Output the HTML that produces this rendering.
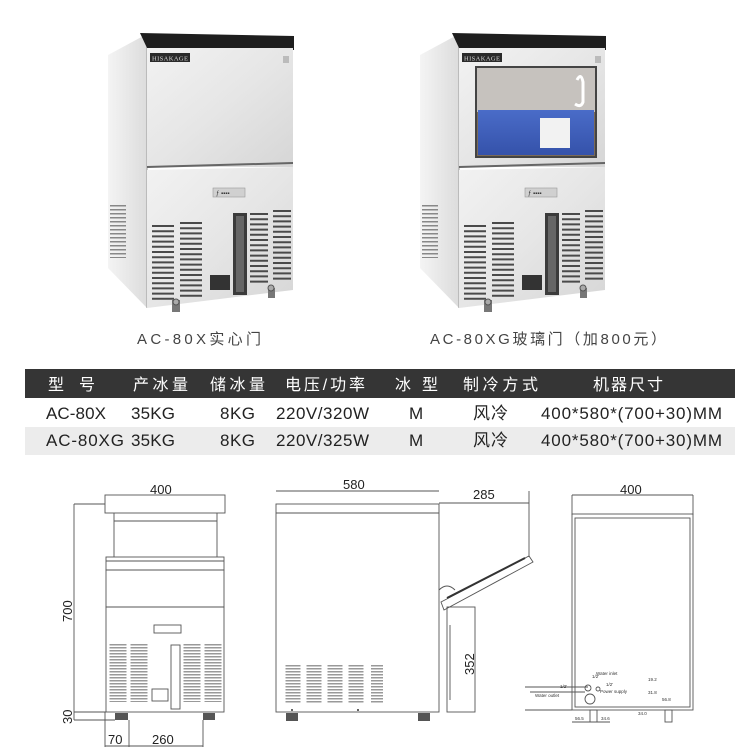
<!DOCTYPE html>
<html><head><meta charset="utf-8"><style>
html,body{margin:0;padding:0;background:#fff;}
svg{display:block;font-family:"Liberation Sans","Noto Sans CJK SC",sans-serif;}
</style></head><body>
<svg width="750" height="750" viewBox="0 0 750 750" xmlns="http://www.w3.org/2000/svg">
<defs>
<linearGradient id="steel" x1="0" y1="0" x2="1" y2="1">
<stop offset="0" stop-color="#f2f2f2"/><stop offset="0.5" stop-color="#e6e6e6"/><stop offset="1" stop-color="#d6d6d6"/>
</linearGradient>
<linearGradient id="side" x1="0" y1="0" x2="1" y2="0">
<stop offset="0" stop-color="#f4f4f4"/><stop offset="1" stop-color="#dcdcdc"/>
</linearGradient>
<linearGradient id="blue" x1="0" y1="0" x2="0" y2="1">
<stop offset="0" stop-color="#4a6cc8"/><stop offset="1" stop-color="#3552aa"/>
</linearGradient>
<g id="machine">
  <polygon points="108,55 147,34 147,308 108,268" fill="url(#side)"/>
  <line x1="147" y1="34" x2="147" y2="308" stroke="#999" stroke-width="1"/>
  <polygon points="140,33 294,36 294,50 147,48" fill="#1e1e1e"/>
  <rect x="147" y="48" width="146" height="119" fill="url(#steel)"/>
  <line x1="147" y1="167" x2="293" y2="163" stroke="#666" stroke-width="2"/>
  <rect x="150" y="53" width="40" height="9" fill="#2a2a2a"/>
  <text x="152" y="60.5" font-size="6.5" fill="#ddd" font-family="Liberation Serif,serif" textLength="36">HISAKAGE</text>
  <rect x="283" y="56" width="6" height="7" fill="#bbb"/>
  <polygon points="147,170 293,167 293,290 147,308" fill="url(#steel)"/>
  <rect x="213" y="188" width="32" height="9" fill="#d0d0d0" stroke="#999" stroke-width="0.6"/>
  <text x="216" y="195" font-size="6" fill="#333">ƒ ▪▪▪▪</text>
  <g stroke="#4a4a4a" stroke-dasharray="2 3.2">
    <line x1="163" y1="225" x2="163" y2="302" stroke-width="22"/>
    <line x1="191" y1="222" x2="191" y2="300" stroke-width="22"/>
    <line x1="259" y1="213" x2="259" y2="283" stroke-width="18"/>
    <line x1="282" y1="210" x2="282" y2="282" stroke-width="18"/>
    <line x1="118" y1="205" x2="118" y2="258" stroke-width="16" stroke-dasharray="1.5 2.5" stroke="#888"/>
  </g>
  <rect x="233" y="213" width="14" height="82" fill="#3b3b3b"/>
  <rect x="236" y="216" width="8" height="76" fill="#666"/>
  <rect x="210" y="275" width="20" height="15" fill="#333"/>
  <rect x="172" y="300" width="8" height="12" fill="#777"/>
  <circle cx="176" cy="302" r="3" fill="#aaa" stroke="#555"/>
  <rect x="268" y="288" width="7" height="10" fill="#777"/>
  <circle cx="271" cy="288" r="3" fill="#aaa" stroke="#555"/>
</g>
</defs>
<use href="#machine"/>
<g transform="translate(312,0)">
<use href="#machine"/>
<rect x="164" y="67" width="120" height="90" fill="#7a6a58"/>
<rect x="164" y="67" width="120" height="45" fill="#e0e0e0" opacity="0.75"/>
<rect x="166" y="110" width="116" height="45" fill="url(#blue)"/>
<rect x="228" y="118" width="30" height="30" fill="#f2f2f2"/>
<path d="M265 80 q4 -8 6 2 l0 20 q-2 6 -8 2" fill="none" stroke="#fff" stroke-width="3"/>
<rect x="164" y="67" width="120" height="90" fill="none" stroke="#444" stroke-width="2"/>
</g>
<text x="137" y="344" font-size="15" fill="#444" textLength="125" letter-spacing="1">AC-80X实心门</text>
<text x="430" y="344" font-size="15" fill="#444" textLength="237" letter-spacing="1">AC-80XG玻璃门（加800元）</text>
<rect x="25" y="369" width="710" height="29" fill="#353535"/>
<rect x="25" y="427" width="710" height="28" fill="#ececec"/>
<g fill="#fff" font-size="16">
<text x="48" y="390" textLength="47">型 号</text>
<text x="133" y="390" textLength="55">产冰量</text>
<text x="210" y="390" textLength="55">储冰量</text>
<text x="285" y="390" textLength="80">电压/功率</text>
<text x="395" y="390" textLength="43">冰 型</text>
<text x="463" y="390" textLength="75">制冷方式</text>
<text x="593" y="390" textLength="70">机器尺寸</text>
</g>
<g fill="#222" font-size="17">
<text x="46" y="419" textLength="60">AC-80X</text>
<text x="131" y="419" textLength="44">35KG</text>
<text x="220" y="419" textLength="35">8KG</text>
<text x="276" y="419" textLength="93">220V/320W</text>
<text x="409" y="419" textLength="14">M</text>
<text x="473" y="419" textLength="35">风冷</text>
<text x="541" y="419" textLength="181">400*580*(700+30)MM</text>
<text x="46" y="446" textLength="78">AC-80XG</text>
<text x="131" y="446" textLength="44">35KG</text>
<text x="220" y="446" textLength="35">8KG</text>
<text x="276" y="446" textLength="93">220V/325W</text>
<text x="409" y="446" textLength="14">M</text>
<text x="473" y="446" textLength="35">风冷</text>
<text x="541" y="446" textLength="181">400*580*(700+30)MM</text>
</g>
<g fill="none" stroke="#555" stroke-width="0.9">
<rect x="105" y="495" width="120" height="18"/>
<line x1="114" y1="513" x2="114" y2="557"/><line x1="217" y1="513" x2="217" y2="557"/>
<line x1="114" y1="521" x2="217" y2="521"/>
<rect x="106" y="557" width="118" height="13"/>
<line x1="106" y1="561" x2="224" y2="561"/>
<rect x="106" y="570" width="118" height="37"/>
<rect x="106" y="607" width="118" height="105"/>
<rect x="154" y="625" width="27" height="8"/>
<rect x="171" y="645" width="9" height="64"/>
<rect x="152" y="689" width="16" height="12"/>
<line x1="74" y1="504" x2="105" y2="504"/><line x1="74" y1="504" x2="74" y2="720"/>
<line x1="74" y1="712" x2="106" y2="712"/><line x1="74" y1="720" x2="115" y2="720"/>
<line x1="105" y1="712" x2="105" y2="747"/><line x1="129" y1="720" x2="129" y2="747"/>
<line x1="203" y1="720" x2="203" y2="747"/><line x1="105" y1="746" x2="203" y2="746"/>
</g>
<g stroke="#999" stroke-dasharray="1.5 1.5">
<line x1="118" y1="644" x2="118" y2="702" stroke-width="17"/>
<line x1="139" y1="644" x2="139" y2="702" stroke-width="17"/>
<line x1="192" y1="644" x2="192" y2="702" stroke-width="17"/>
<line x1="213" y1="644" x2="213" y2="702" stroke-width="17"/>
</g>
<rect x="115" y="713" width="13" height="7" fill="#555"/>
<rect x="203" y="713" width="12" height="7" fill="#555"/>
<g font-size="13" fill="#222">
<text x="150" y="494">400</text>
<text x="108" y="744">70</text>
<text x="152" y="744">260</text>
<text transform="translate(72,622) rotate(-90)">700</text>
<text transform="translate(72,724) rotate(-90)">30</text>
</g>
<g fill="none" stroke="#555" stroke-width="0.9">
<line x1="276" y1="491" x2="439" y2="491"/>
<rect x="276" y="504" width="163" height="208"/>
<line x1="276" y1="513" x2="439" y2="513"/>
<line x1="439" y1="503" x2="529" y2="503"/><line x1="529" y1="491" x2="529" y2="557"/>
<rect x="447" y="607" width="28" height="105"/>
<line x1="450" y1="625" x2="450" y2="700"/>
<path d="M439 590 q8 -8 16 0"/>
<polygon points="441,602 529,556 533,562 444,610"/>
</g>
<line x1="447" y1="598" x2="525" y2="558" stroke="#333" stroke-width="2"/>
<g stroke="#999" stroke-dasharray="1.5 1.5">
<line x1="293" y1="665" x2="293" y2="703" stroke-width="15"/>
<line x1="314" y1="665" x2="314" y2="703" stroke-width="15"/>
<line x1="335" y1="665" x2="335" y2="703" stroke-width="15"/>
<line x1="356" y1="665" x2="356" y2="703" stroke-width="15"/>
<line x1="377" y1="665" x2="377" y2="703" stroke-width="12"/>
</g>
<rect x="286" y="713" width="12" height="8" fill="#555"/>
<rect x="418" y="713" width="12" height="8" fill="#555"/>
<circle cx="292" cy="710" r="1" fill="#333"/><circle cx="358" cy="710" r="1" fill="#333"/>
<g font-size="13" fill="#222">
<text x="343" y="489">580</text>
<text x="473" y="499">285</text>
<text transform="translate(474,675) rotate(-90)">352</text>
</g>
<g fill="none" stroke="#555" stroke-width="0.9">
<line x1="572" y1="495" x2="693" y2="495"/>
<line x1="572" y1="495" x2="572" y2="515"/><line x1="693" y1="495" x2="693" y2="515"/>
<rect x="572" y="514" width="121" height="196"/>
<rect x="575" y="518" width="115" height="189"/>
<circle cx="588" cy="688" r="3"/><circle cx="598" cy="689" r="2"/>
<circle cx="590" cy="699" r="5"/>
<line x1="525" y1="687" x2="588" y2="687"/><line x1="525" y1="710" x2="572" y2="710"/>
<line x1="530" y1="692" x2="585" y2="692"/>
<rect x="590" y="710" width="7" height="12"/><rect x="665" y="710" width="7" height="12"/>
<line x1="572" y1="722" x2="610" y2="722"/>
</g>
<g font-size="4.5" fill="#333">
<text x="592" y="678">1/2'</text><text x="596" y="675">Water inlet</text>
<text x="606" y="686">1/2'</text><text x="600" y="693">Power supply</text>
<text x="535" y="697">Water outlet</text><text x="560" y="688">1/2'</text>
<text x="648" y="681">19.2</text><text x="648" y="694">31.8</text><text x="662" y="701">56.8</text>
<text x="575" y="720">56.5</text><text x="601" y="720">34.6</text><text x="638" y="715">34.0</text>
</g>
<text x="620" y="494" font-size="13" fill="#222">400</text>
</svg>
</body></html>
